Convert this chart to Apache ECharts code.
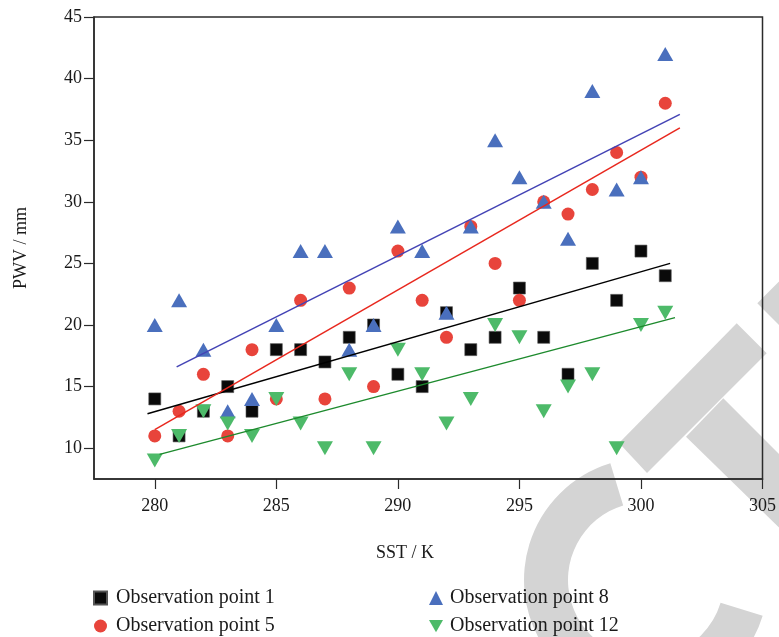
<!DOCTYPE html>
<html>
<head>
<meta charset="utf-8">
<script src="https://cdn.jsdelivr.net/npm/echarts@6/dist/echarts.min.js"></script>
<style>
  html,body{margin:0;padding:0;background:#fff;}
  #scatter-pwv{width:779px;height:637px;}
</style>
</head>
<body>
<div id="scatter-pwv"></div>
<script>
  // SST (K) for every observation
  var sst = [280, 281, 282, 283, 284, 285, 286, 287, 288, 289, 290, 291, 292, 293, 294, 295, 296, 297, 298, 299, 300, 301];
  // PWV (mm) per observation point
  var point1  = [14, 11, 13, 15, 13, 18, 18, 17, 19, 20, 16, 15, 21, 18, 19, 23, 19, 16, 25, 22, 26, 24];
  var point5  = [11, 13, 16, 11, 18, 14, 22, 14, 23, 15, 26, 22, 19, 28, 25, 22, 30, 29, 31, 34, 32, 38];
  var point8  = [20, 22, 18, 13, 14, 20, 26, 26, 18, 20, 28, 26, 21, 28, 35, 32, 30, 27, 39, 31, 32, 42];
  var point12 = [9, 11, 13, 12, 11, 14, 12, 10, 16, 10, 18, 16, 12, 14, 20, 19, 13, 15, 16, 10, 20, 21];
  // fitted trend lines, end points
  var trend1  = [[279.7, 12.8], [301.2, 25.0]];
  var trend5  = [[280.0, 11.5], [301.6, 36.0]];
  var trend8  = [[280.9, 16.6], [301.6, 37.1]];
  var trend12 = [[280.2, 9.5], [301.4, 20.6]];
  // tick labels
  var xTicks = [280, 285, 290, 295, 300, 305];
  var yTicks = [10, 15, 20, 25, 30, 35, 40, 45];

  var FONT = 'Liberation Serif';
  var WM = '#d4d4d4';

  function pairs(ys) {
    return sst.map(function (x, i) { return [x, ys[i]]; });
  }

  var chart = echarts.init(document.getElementById('scatter-pwv'));

  var option = {
    animation: false,
    textStyle: {fontFamily: FONT, color: '#1a1a1a'},
    grid: {
      left: 94, right: 14, top: 17, bottom: 158,
      show: true, borderColor: '#2b2b2b', borderWidth: 1.5
    },
    legend: [
      {
        data: ['Observation point 1', 'Observation point 5'],
        orient: 'vertical', left: 93, top: 588, padding: 0, height: 49,
        itemWidth: 13, itemHeight: 13, itemGap: 8,
        textStyle: {fontFamily: FONT, fontSize: 20, color: '#1a1a1a', lineHeight: 20, padding: [0, 0, 0, 4]}
      },
      {
        data: ['Observation point 8', 'Observation point 12'],
        orient: 'vertical', left: 429, top: 588, padding: 0, height: 49,
        itemWidth: 14, itemHeight: 14, itemGap: 8,
        textStyle: {fontFamily: FONT, fontSize: 20, color: '#1a1a1a', lineHeight: 20, padding: [0, 0, 0, 2]}
      }
    ],
    xAxis: {
      type: 'value', min: 277.5, max: 305,
      axisLine: {show: true, lineStyle: {color: '#2b2b2b', width: 1.5}},
      axisTick: {show: true, length: 10, customValues: xTicks, lineStyle: {color: '#2b2b2b', width: 1.2}},
      axisLabel: {customValues: xTicks, margin: 18, fontSize: 18, fontFamily: FONT, color: '#1a1a1a'},
      splitLine: {show: false}
    },
    yAxis: {
      type: 'value', min: 7.5, max: 45,
      name: 'PWV / mm', nameLocation: 'middle', nameGap: 64,
      nameTextStyle: {fontSize: 18, fontFamily: FONT, color: '#1a1a1a'},
      axisLine: {show: true, lineStyle: {color: '#2b2b2b', width: 1.5}},
      axisTick: {show: true, length: 10, customValues: yTicks, lineStyle: {color: '#2b2b2b', width: 1.2}},
      axisLabel: {customValues: yTicks, margin: 12, fontSize: 18, fontFamily: FONT, color: '#1a1a1a'},
      splitLine: {show: false}
    },
    graphic: [
      // grey watermark behind the plot
      {type: 'polygon', z: -10, shape: {points: [[619, 443], [736.7, 323.3], [766.7, 353.3], [647, 473]]}, style: {fill: WM}},
      {type: 'polygon', z: -10, shape: {points: [[723.3, 398.3], [800, 475], [800, 548], [686, 436.7]]}, style: {fill: WM}},
      {type: 'polygon', z: -10, shape: {points: [[757.3, 303.3], [800, 260.6], [800, 346]]}, style: {fill: WM}},
      {type: 'sector', z: -10, shape: {cx: 646, cy: 580, r: 122, r0: 78, startAngle: 17 * Math.PI / 180, endAngle: 253 * Math.PI / 180, clockwise: true}, style: {fill: WM}},
      {type: 'text', left: 376, top: 544, style: {text: 'SST / K', font: '18px "Liberation Serif"', fill: '#1a1a1a'}}
    ],
    series: [
      {name: 'Observation point 1', type: 'scatter', symbol: 'rect', symbolSize: 12, z: 3,
        itemStyle: {color: '#0a0a0a', borderColor: '#555', borderWidth: 0.6, opacity: 1}, data: pairs(point1)},
      {name: 'Observation point 5', type: 'scatter', symbol: 'circle', symbolSize: 13, z: 3,
        itemStyle: {color: '#e8443b', opacity: 1}, data: pairs(point5)},
      {name: 'Observation point 8', type: 'scatter', symbol: 'triangle', symbolSize: [16, 14], z: 3,
        itemStyle: {color: '#4a6fbd', opacity: 1}, data: pairs(point8)},
      {name: 'Observation point 12', type: 'scatter', symbol: 'path://M0,0L16,0L8,14Z', symbolSize: [16, 14], z: 3,
        itemStyle: {color: '#4dba69', opacity: 1}, data: pairs(point12)},
      {type: 'line', data: trend1, showSymbol: false, silent: true, z: 4, lineStyle: {color: '#000', width: 1.5}},
      {type: 'line', data: trend5, showSymbol: false, silent: true, z: 4, lineStyle: {color: '#e8281e', width: 1.5}},
      {type: 'line', data: trend8, showSymbol: false, silent: true, z: 4, lineStyle: {color: '#4343b5', width: 1.5}},
      {type: 'line', data: trend12, showSymbol: false, silent: true, z: 4, lineStyle: {color: '#1d8a2d', width: 1.5}}
    ]
  };

  option && chart.setOption(option);
</script>
</body>
</html>
